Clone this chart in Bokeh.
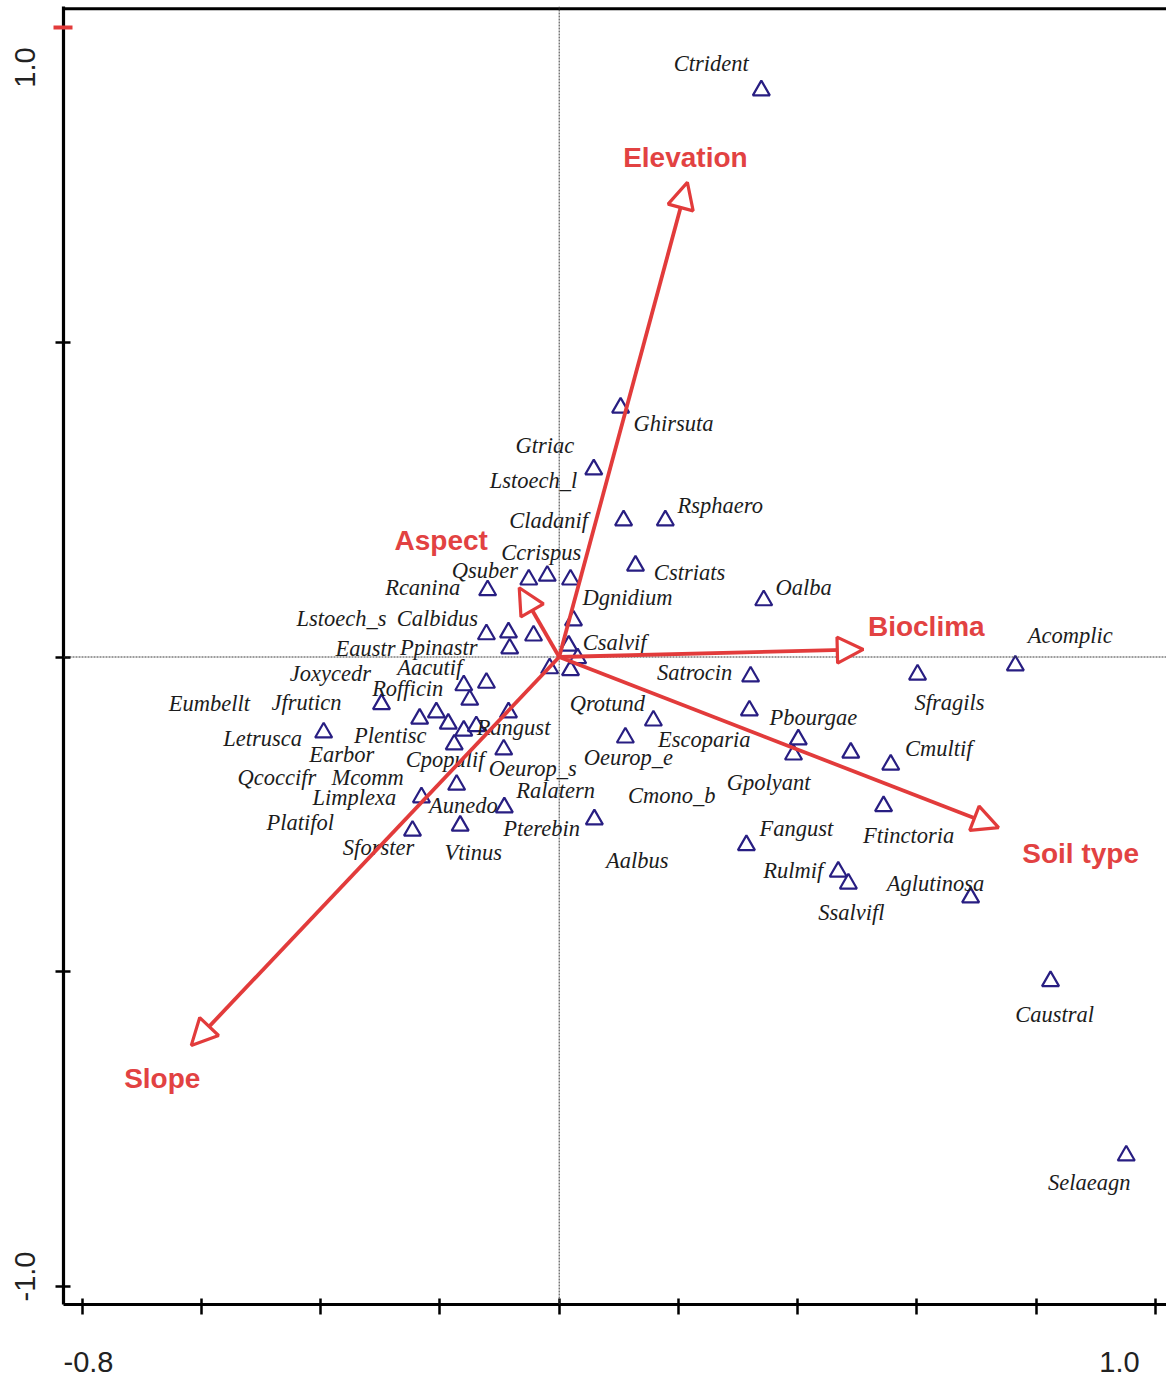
from bokeh.plotting import figure
from bokeh.models import (ColumnDataSource, LinearAxis, FixedTicker, Span,
                          Arrow, NormalHead, Range1d)
from bokeh.core.properties import value
from bokeh.embed import file_html
from bokeh.resources import INLINE

# --- species scores on CCA axes 1 and 2 ---------------------------------
species = [
    "Ctrident", "Ghirsuta", "Gtriac", "Lstoech_l", "Rsphaero", "Cstriats", "Oalba",
    "Rcanina", "Qsuber", "Ccrispus", "Cladanif", "Dgnidium", "Csalvif",
    "Calbidus", "Lstoech_s", "Ppinastr", "Eaustr", "", "Pterebin", "Ralatern",
    "Aacutif", "Joxycedr", "Rofficin", "Jfruticn", "Letrusca", "Earbor", "Eumbellt",
    "Plentisc", "Qcoccifr", "Platifol", "Rangust", "Cpopulif", "Oeurop_s", "Mcomm",
    "Limplexa", "Aunedo", "Sforster", "Vtinus", "Aalbus", "Satrocin", "Sfragils",
    "Acomplic", "Pbourgae", "Qrotund", "Oeurop_e", "Escoparia", "Gpolyant", "Cmono_b",
    "Cmultif", "Ftinctoria", "Fangust", "Rulmif", "Ssalvifl", "Aglutinosa",
    "Caustral", "Selaeagn",
]
axis1 = [
    0.339, 0.103, 0.058, 0.108, 0.178, 0.128, 0.343,
    -0.120, -0.051, -0.020, 0.019, 0.024, 0.016,
    -0.122, -0.085, -0.083, -0.043, 0.031, -0.016, 0.019,
    -0.160, -0.122, -0.150, -0.298, -0.395, -0.234, -0.206,
    -0.186, -0.160, -0.139, -0.085, -0.176, -0.093, -0.172,
    -0.231, -0.092, -0.246, -0.166, 0.059, 0.321, 0.601,
    0.765, 0.319, 0.158, 0.111, 0.401, 0.393, 0.489,
    0.556, 0.544, 0.314, 0.468, 0.485, 0.690,
    0.824, 0.951,
]
axis2 = [
    0.900, 0.396, 0.298, 0.217, 0.217, 0.145, 0.090,
    0.106, 0.123, 0.129, 0.123, 0.058, 0.018,
    0.036, 0.039, 0.0135, 0.034, -0.002, -0.018, -0.021,
    -0.045, -0.041, -0.068, -0.075, -0.120, -0.098, -0.088,
    -0.106, -0.117, -0.110, -0.088, -0.139, -0.147, -0.203,
    -0.223, -0.239, -0.276, -0.268, -0.258, -0.031, -0.028,
    -0.0135, -0.085, -0.101, -0.128, -0.131, -0.155, -0.152,
    -0.171, -0.237, -0.299, -0.341, -0.360, -0.382,
    -0.515, -0.792,
]

# label placement in screen pixels (right, down) relative to each point
label_dx = [
    -50, 53, -49, -90, 55, 54, 40,
    -65, -44, -6, -22, 54, 46,
    -49, -167, -71, -168, 0, -8, -15,
    -34, -156, -62, -75, -61, -78, -227,
    -58, -187, -176, 5, -9, 29, -89,
    -67, -41, -34, 13, 43, -56, 32,
    55, 64, -46, 3, -94, -25, -179,
    48, 25, 50, -45, 3, -35,
    4, -37,
]
label_dy = [
    -27, 16, -24, -40, -15, 7, -13,
    -3, -9, -23, -59, -23, -3,
    -16, -14, -1, 13, 0, 160, 120,
    -18, -9, -11, -2, 6, 36, -9,
    12, 47, 96, 15, 15, 19, -7,
    0, -2, 17, 27, 41, -4, 28,
    -30, 7, -17, 20, 0, 28, 43,
    -16, 29, -17, -1, 29, -14,
    33, 27,
]

# --- environmental variables (biplot arrows) ------------------------------
env_vars = ["Elevation", "Aspect", "Bioclima", "Soil type", "Slope"]
env_axis1 = [0.215, -0.067, 0.510, 0.737, -0.617]
env_axis2 = [0.754, 0.110, 0.012, -0.271, -0.617]
env_dx = [-2, -78, 63, 82, -29]
env_dy = [-25, -47, -23, 26, 33]

# --- axes ------------------------------------------------------------------
x_ticks = [-0.8, -0.6, -0.4, -0.2, 0.0, 0.2, 0.4, 0.6, 0.8, 1.0]
y_ticks = [-1.0, -0.5, 0.0, 0.5]
y_top_tick = [1.0]
x_tick_labels = {-0.8: "-0.8", 1.0: "1.0"}
y_tick_labels = {-1.0: "-1.0", 1.0: "1.0"}

X_RANGE = (-0.8313, 1.0185)
Y_RANGE = (-1.0286, 1.0334)
# the end labels sit a little inboard of their ticks: separate label scales
X_LABEL_RANGE = (-0.8436, 1.0821)
Y_LABEL_RANGE = (-1.0463, 1.1009)

RED = "#e23b3b"
RED_TEXT = "#e24242"
NAVY = "#281e82"
INK = "#1c1c1c"

p = figure(width=1166, height=1377, output_backend="svg", toolbar_location=None,
           x_axis_type=None, y_axis_type=None,
           x_range=Range1d(*X_RANGE), y_range=Range1d(*Y_RANGE),
           min_border_left=63, min_border_right=0, min_border_top=6,
           min_border_bottom=73)
p.extra_x_ranges = {"xlab": Range1d(*X_LABEL_RANGE)}
p.extra_y_ranges = {"ylab": Range1d(*Y_LABEL_RANGE)}
p.outline_line_color = None
p.background_fill_color = "white"
p.border_fill_color = "white"

xaxis = LinearAxis(ticker=FixedTicker(ticks=x_ticks, minor_ticks=[]),
                   major_label_overrides={t: "" for t in x_ticks},
                   major_label_text_font_size="0px", major_label_standoff=0,
                   axis_line_width=3.2, axis_line_color="black",
                   major_tick_in=6, major_tick_out=10,
                   major_tick_line_width=2.5, major_tick_line_color="black",
                   minor_tick_line_color=None)
yaxis = LinearAxis(ticker=FixedTicker(ticks=y_ticks, minor_ticks=y_top_tick),
                   major_label_overrides={t: "" for t in y_ticks},
                   major_label_text_font_size="0px", major_label_standoff=0,
                   axis_line_width=3.2, axis_line_color="black",
                   major_tick_in=7, major_tick_out=8,
                   major_tick_line_width=2.5, major_tick_line_color="black",
                   minor_tick_in=9, minor_tick_out=10,
                   minor_tick_line_width=4, minor_tick_line_color=RED)
p.add_layout(xaxis, "below")
p.add_layout(yaxis, "left")

xlab_axis = LinearAxis(x_range_name="xlab",
                       ticker=FixedTicker(ticks=list(x_tick_labels), minor_ticks=[]),
                       major_label_overrides=x_tick_labels,
                       axis_line_color=None, major_tick_line_color=None,
                       minor_tick_line_color=None, major_tick_in=0, major_tick_out=0,
                       major_label_standoff=37,
                       major_label_text_line_height=0.7,
                       major_label_text_font="Liberation Sans",
                       major_label_text_font_size="29px",
                       major_label_text_color="#222222")
ylab_axis = LinearAxis(y_range_name="ylab",
                       ticker=FixedTicker(ticks=list(y_tick_labels), minor_ticks=[]),
                       major_label_overrides=y_tick_labels,
                       major_label_orientation="vertical",
                       axis_line_color=None, major_tick_line_color=None,
                       minor_tick_line_color=None, major_tick_in=0, major_tick_out=0,
                       major_label_standoff=18,
                       major_label_text_font="Liberation Sans",
                       major_label_text_font_size="29px",
                       major_label_text_color="#222222")
p.add_layout(xlab_axis, "below")
p.add_layout(ylab_axis, "left")

# frame top rule and the two zero lines
p.add_layout(Span(location=1.030, dimension="width", line_color="black", line_width=3))
p.add_layout(Span(location=0, dimension="height", line_color="#3a3a3a",
                  line_width=1, line_dash="2 1"))
p.add_layout(Span(location=0, dimension="width", line_color="#3a3a3a",
                  line_width=1, line_dash="2 1"))

sp = ColumnDataSource(dict(x=axis1, y=axis2, name=species, dx=label_dx, dy=label_dy))
p.scatter(x="x", y="y", source=sp, marker="triangle", size=17,
          fill_color=None, line_color=NAVY, line_width=2.2)
p.text(x="x", y="y", text="name", x_offset="dx", y_offset="dy", source=sp,
       text_font=value("Liberation Serif"), text_font_style="italic",
       text_font_size="22.5px", text_align="center", text_baseline="middle",
       text_color=INK)

env = ColumnDataSource(dict(x0=[0.0] * len(env_vars), y0=[0.0] * len(env_vars),
                            x=env_axis1, y=env_axis2, name=env_vars,
                            dx=env_dx, dy=env_dy))
p.add_layout(Arrow(source=env, x_start="x0", y_start="y0", x_end="x", y_end="y",
                   line_color=RED, line_width=3.8,
                   end=NormalHead(size=26, line_color=RED, line_width=3.2,
                                  fill_color="white")))
p.text(x="x", y="y", text="name", x_offset="dx", y_offset="dy", source=env,
       text_font=value("Liberation Sans"), text_font_style="bold",
       text_font_size="28px", text_align="center", text_baseline="middle",
       text_color=RED_TEXT)

open("out.html", "w").write(file_html(p, INLINE))
